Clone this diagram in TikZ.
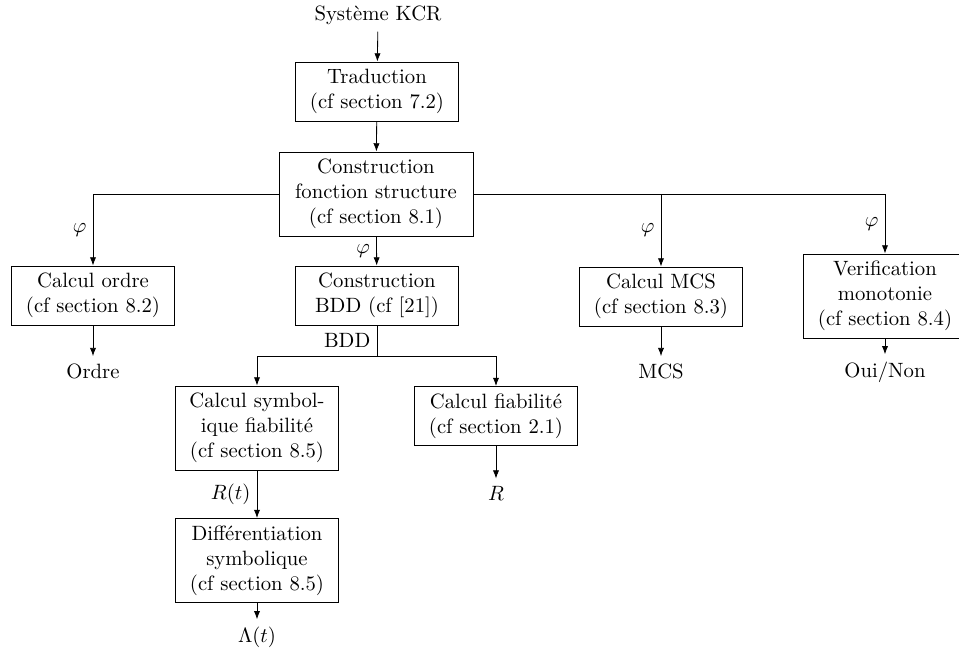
\documentclass[tikz,border=0pt]{standalone}
\usepackage{fontspec}
\usetikzlibrary{arrows.meta}
\begin{document}
\begin{tikzpicture}[x=0.483pt,y=-0.483pt,
  box/.style={draw, align=center, minimum width=78.7pt, inner xsep=4pt, inner ysep=3.3pt},
  twoline/.style={minimum height=28.5pt},
  threeline/.style={minimum height=40.6pt},
  flow/.style={-{Latex[length=4pt,width=3pt]}},
  lbl/.style={inner sep=3pt}]
\useasboundingbox (0,0) rectangle (959,654);

% processing steps
\node (sys) at (378,15) {Système KCR};
\node[box,twoline] (trad) at (377,91.5) {Traduction\\(cf section 7.2)};
\node[box,threeline,minimum width=93.7pt] (cfs) at (376,194)
  {Construction\\fonction structure\\(cf section 8.1)};
\node[box,twoline] (ordre) at (93,295.5) {Calcul ordre\\(cf section 8.2)};
\node[box,twoline] (bdd) at (377,295.5) {Construction\\BDD (cf [21])};
\node[box,twoline] (mcs) at (661,296.5) {Calcul MCS\\(cf section 8.3)};
\node[box,threeline] (verif) at (885,296) {Verification\\monotonie\\(cf section 8.4)};
\node[box,threeline] (symb) at (257,428) {Calcul symbol-\\ique fiabilité\\(cf section 8.5)};
\node[box,twoline] (fiab) at (496,416) {Calcul fiabilité\\(cf section 2.1)};
\node[box,threeline] (diff) at (257,560.5) {Différentiation\\symbolique\\(cf section 8.5)};

% results
\node (resordre) at (93,371) {Ordre};
\node (resmcs) at (661,371) {MCS};
\node (resverif) at (885,372) {Oui/Non};
\node (resR) at (496,493) {$R$};
\node (reslambda) at (257,637) {$\Lambda(t)$};

% connectors
\draw[flow] (sys) -- (trad);
\draw[flow] (trad) -- (cfs);
\draw[flow] (cfs.west) -| node[pos=0.75,left,lbl] {$\varphi$} (ordre.north);
\draw[flow] (cfs.east) -| node[pos=0.75,left,lbl] {$\varphi$} (verif.north);
\draw[flow] (mcs.north |- cfs.east) -- node[left,lbl] {$\varphi$} (mcs.north);
\draw[flow] (cfs) -- node[left,lbl] {$\varphi$} (bdd);
\draw (bdd.south) -- node[left,lbl] {BDD} ++(0,31) coordinate (split);
\draw[flow] (split) -| (symb.north);
\draw[flow] (split) -| (fiab.north);
\draw[flow] (symb) -- node[left,lbl] {$R(t)$} (diff);
\draw[flow] (ordre) -- (resordre);
\draw[flow] (mcs) -- (resmcs);
\draw[flow] (verif) -- (resverif);
\draw[flow] (fiab) -- (resR);
\draw[flow] (diff) -- (reslambda);
\end{tikzpicture}
\end{document}
